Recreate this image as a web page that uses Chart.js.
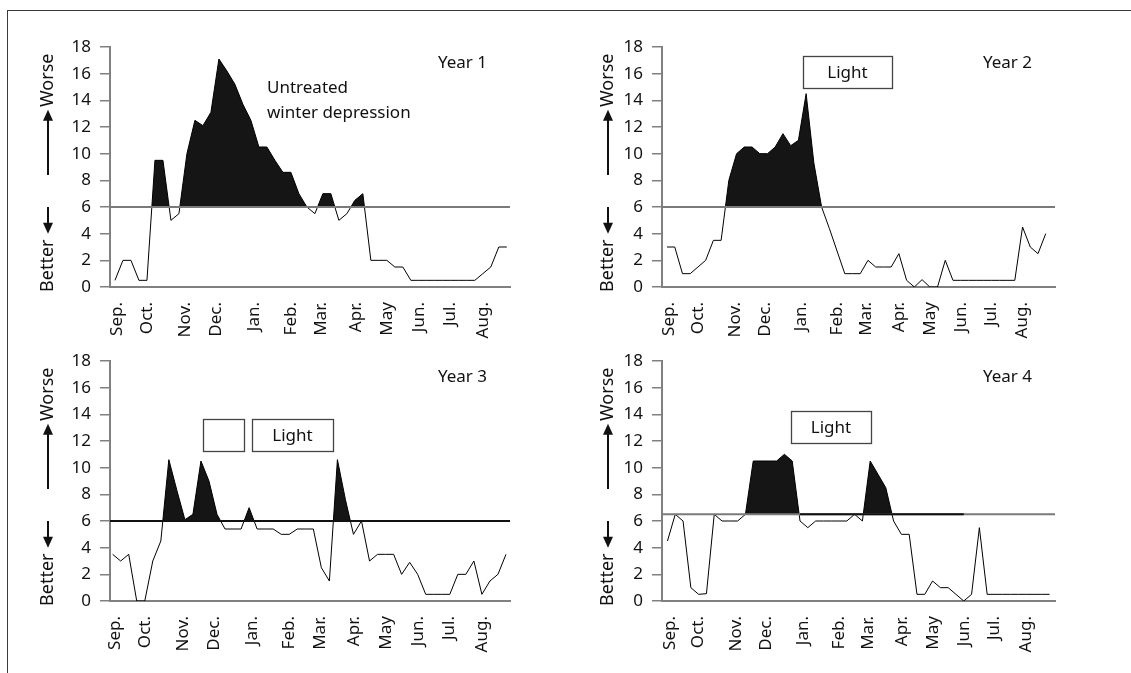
<!DOCTYPE html>
<html>
<head>
<meta charset="utf-8">
<script src="https://cdn.jsdelivr.net/npm/chart.js@4.4.0/dist/chart.umd.min.js"></script>
<style>
  html, body { margin: 0; padding: 0; background: #fff; }
  #page { position: relative; width: 1131px; height: 673px; overflow: hidden; }
  #frame { position: absolute; left: 7px; top: 10px; width: 1130px; height: 670px;
           border-top: 1.5px solid #3a3a3a; border-left: 1.5px solid #3a3a3a; }
  .panel { position: absolute; width: 550px; height: 350px; }
</style>
</head>
<body>
<div id="page">
  <div id="frame"></div>
  <div class="panel" style="left:0;top:0"><canvas id="c1" width="550" height="350"></canvas></div>
  <div class="panel" style="left:552px;top:0"><canvas id="c2" width="550" height="350"></canvas></div>
  <div class="panel" style="left:0;top:314px"><canvas id="c3" width="550" height="350"></canvas></div>
  <div class="panel" style="left:552px;top:314px"><canvas id="c4" width="550" height="350"></canvas></div>
</div>
<script>
// 월 라벨 (x축), 주 단위 위치
var monthLabels = ['Sep.', 'Oct.', 'Nov.', 'Dec.', 'Jan.', 'Feb.', 'Mar.', 'Apr.', 'May', 'Jun.', 'Jul.', 'Aug.'];
var monthWeeks = [0.3, 4, 8.8, 12.7, 17.4, 22, 25.8, 30.1, 34.1, 38, 41.9, 46];

// 주간 점수 (0 = better, 18 = worse)
var year1 = [0.5, 2, 2, 0.5, 0.5, 9.5, 9.5, 5, 5.5, 10,
             12.5, 12.1, 13.1, 17.1, 16.2, 15.2, 13.7, 12.5, 10.5, 10.5,
             9.5, 8.6, 8.6, 7, 6, 5.5, 7, 7, 5, 5.5,
             6.5, 7, 2, 2, 2, 1.5, 1.5, 0.5, 0.5, 0.5,
             0.5, 0.5, 0.5, 0.5, 0.5, 0.5, 1, 1.5, 3, 3];
var year2 = [3, 3, 1, 1, 1.5, 2, 3.5, 3.5, 8, 10,
             10.5, 10.5, 10, 10, 10.5, 11.5, 10.6, 11, 14.5, 9.3,
             6, 4.4, 2.7, 1, 1, 1, 2, 1.5, 1.5, 1.5,
             2.5, 0.5, 0, 0.55, 0, 0, 2, 0.5, 0.5, 0.5,
             0.5, 0.5, 0.5, 0.5, 0.5, 0.5, 4.5, 3, 2.5, 4];
var year3 = [3.5, 3, 3.5, 0, 0, 3, 4.5, 10.6, 8.3, 6.1,
             6.5, 10.5, 9, 6.5, 5.4, 5.4, 5.4, 7, 5.4, 5.4,
             5.4, 5, 5, 5.4, 5.4, 5.4, 2.5, 1.5, 10.6, 7.6,
             5, 6, 3, 3.5, 3.5, 3.5, 2, 2.9, 2, 0.5,
             0.5, 0.5, 0.5, 2, 2, 3, 0.5, 1.5, 2, 3.5];
var year4 = [4.5, 6.5, 6, 1, 0.5, 0.55, 6.5, 6, 6, 6,
             6.5, 10.5, 10.5, 10.5, 10.5, 11, 10.5, 6, 5.5, 6,
             6, 6, 6, 6, 6.5, 6, 10.5, 9.5, 8.5, 6,
             5, 5, 0.5, 0.5, 1.5, 1, 1, 0.5, 0, 0.5,
             5.5, 0.5, 0.5, 0.5, 0.5, 0.5, 0.5, 0.5, 0.5, 0.5];

var thresholds = [6, 6, 6, 6.5];
var year4BarWeeks = [17, 38];

var FONT = '"Noto Sans", "Open Sans", sans-serif';

// 패널 설정 (위치/스타일)
var panels = [
    { id: 'c1', data: year1, xMin: -0.62, xMax: 49.4, padRight: 40, sideX: 48,
      thrColor: '#7a7a7a', title: 'Year 1',
      texts: [{ t: 'Untreated', x: 267, y: 88 }, { t: 'winter depression', x: 267, y: 113 }],
      boxes: [] },
    { id: 'c2', data: year2, xMin: -0.65, xMax: 50.2, padRight: 47, sideX: 56,
      thrColor: '#7a7a7a', title: 'Year 2', texts: [],
      boxes: [{ x: 251, y: 56, w: 89, h: 32, t: 'Light' }] },
    { id: 'c3', data: year3, xMin: -0.33, xMax: 49.5, padRight: 40, sideX: 48,
      thrColor: '#111', title: 'Year 3', texts: [],
      boxes: [{ x: 203, y: 105, w: 41, h: 32, t: '' }, { x: 252, y: 105, w: 81, h: 32, t: 'Light' }] },
    { id: 'c4', data: year4, xMin: -0.7, xMax: 49.7, padRight: 47, sideX: 56,
      thrColor: '#7a7a7a', title: 'Year 4', texts: [],
      boxes: [{ x: 239, y: 97, w: 80, h: 32, t: 'Light' }] }
];

function arrow(ctx, x, y1, y2) {
    var dir = y2 > y1 ? 1 : -1;
    ctx.beginPath();
    ctx.moveTo(x, y1);
    ctx.lineTo(x, y2 - dir * 8);
    ctx.stroke();
    ctx.beginPath();
    ctx.moveTo(x, y2);
    ctx.lineTo(x - 5, y2 - dir * 11);
    ctx.lineTo(x + 5, y2 - dir * 11);
    ctx.closePath();
    ctx.fill();
}

function vText(ctx, t, x, y) {
    ctx.save();
    ctx.translate(x, y);
    ctx.rotate(-Math.PI / 2);
    ctx.textAlign = 'center';
    ctx.textBaseline = 'middle';
    ctx.fillText(t, 0, 0);
    ctx.restore();
}

// 주석, 화살표, 박스 그리기
var decorPlugin = {
    id: 'panelDecor',
    afterDraw: function(chart, args, opts) {
        var ctx = chart.ctx;
        var ys = chart.scales.y;
        ctx.save();
        ctx.fillStyle = '#111';
        ctx.strokeStyle = '#111';
        ctx.lineWidth = 2;
        ctx.font = '18px ' + FONT;
        vText(ctx, 'Better', opts.sideX, ys.getPixelForValue(1.6));
        vText(ctx, 'Worse', opts.sideX, ys.getPixelForValue(15.5));
        arrow(ctx, opts.sideX, ys.getPixelForValue(6.0), ys.getPixelForValue(4.0));
        arrow(ctx, opts.sideX, ys.getPixelForValue(8.4), ys.getPixelForValue(13.3));

        ctx.font = '17px ' + FONT;
        ctx.textBaseline = 'middle';
        ctx.textAlign = 'right';
        ctx.fillText(opts.title, chart.chartArea.right - 23, 63);
        ctx.textAlign = 'left';
        opts.texts.forEach(function(tx) {
            ctx.fillText(tx.t, tx.x, tx.y);
        });
        ctx.lineWidth = 1.3;
        ctx.strokeStyle = '#444';
        ctx.textAlign = 'center';
        opts.boxes.forEach(function(b) {
            ctx.fillStyle = '#fff';
            ctx.fillRect(b.x, b.y, b.w, b.h);
            ctx.strokeRect(b.x + 0.5, b.y + 0.5, b.w, b.h);
            ctx.fillStyle = '#111';
            if (b.t) ctx.fillText(b.t, b.x + b.w / 2, b.y + b.h / 2 + 1);
        });
        ctx.restore();
    }
};

function createPanel(p, index) {
    var thr = thresholds[index];
    var datasets = [
        {
            data: p.data.map(function(v, i) { return { x: i, y: v }; }),
            borderColor: '#000',
            borderWidth: 1,
            pointRadius: 0,
            tension: 0,
            fill: { target: { value: thr }, above: '#151515', below: 'rgba(0,0,0,0)' },
            order: 2
        },
        {
            data: [{ x: p.xMin, y: thr }, { x: p.xMax, y: thr }],
            borderColor: p.thrColor,
            borderWidth: 2,
            pointRadius: 0,
            fill: false,
            order: 1
        }
    ];
    if (index === 3) {
        datasets.push({
            data: [{ x: year4BarWeeks[0], y: thr }, { x: year4BarWeeks[1], y: thr }],
            borderColor: '#111',
            borderWidth: 2,
            pointRadius: 0,
            fill: false,
            order: 0
        });
    }

    var ctx = document.getElementById(p.id).getContext('2d');
    return new Chart(ctx, {
        type: 'line',
        data: { datasets: datasets },
        plugins: [decorPlugin],
        options: {
            responsive: false,
            animation: false,
            layout: { padding: { left: 0, right: p.padRight, top: 47, bottom: 0 } },
            scales: {
                x: {
                    type: 'linear',
                    min: p.xMin,
                    max: p.xMax,
                    grid: { display: false },
                    border: { display: true, color: '#808080', width: 2 },
                    afterBuildTicks: function(scale) {
                        scale.ticks = monthWeeks.map(function(w) { return { value: w }; });
                    },
                    afterFit: function(scale) { scale.height = 63; },
                    ticks: {
                        autoSkip: false,
                        minRotation: 90,
                        maxRotation: 90,
                        padding: 7,
                        color: '#111',
                        font: { family: FONT, size: 17 },
                        callback: function(value, i) { return monthLabels[i]; }
                    }
                },
                y: {
                    min: 0,
                    max: 18,
                    grid: { drawOnChartArea: false, drawTicks: true, tickLength: 10, color: '#808080', lineWidth: 1.5 },
                    border: { display: true, color: '#808080', width: 2 },
                    afterFit: function(scale) { scale.width = 110; },
                    ticks: {
                        stepSize: 2,
                        padding: 9,
                        color: '#111',
                        font: { family: FONT, size: 17 }
                    }
                }
            },
            plugins: {
                legend: { display: false },
                tooltip: { enabled: false },
                panelDecor: {
                    sideX: p.sideX, title: p.title, texts: p.texts, boxes: p.boxes
                }
            }
        }
    });
}

panels.forEach(function(p, i) { createPanel(p, i); });
</script>
</body>
</html>
